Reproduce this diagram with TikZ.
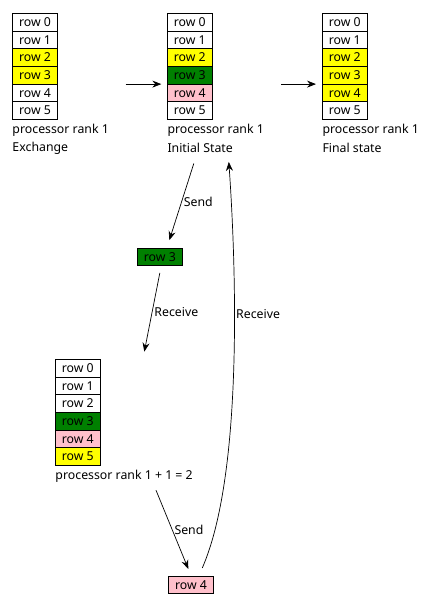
\documentclass[tikz,border=0pt]{standalone}
\usepackage{fontspec}
\setmainfont{Noto Sans}
\usepackage{tikz}
\usetikzlibrary{positioning,arrows.meta}
\definecolor{rowyellow}{RGB}{255,255,0}
\definecolor{rowgreen}{RGB}{0,128,0}
\definecolor{rowpink}{RGB}{255,192,203}
\tikzset{
	cell/.style={draw, line width=0.8pt, minimum width=45pt, minimum height=17.7pt, inner sep=0pt, outer sep=0pt, font=\fontsize{12.3}{14}\selectfont},
	lbl/.style={anchor=west, inner sep=0pt, font=\fontsize{12.3}{14}\selectfont},
	elbl/.style={inner sep=2pt, font=\fontsize{12.3}{14}\selectfont},
	arr/.style={line width=0.7pt, -{Stealth[length=9pt,width=7pt,inset=3pt]}}
}

\begin{document}
\begin{tikzpicture}[x=1pt, y=-1pt]
		%%%%% START %%%%%
		\useasboundingbox (0, 0) rectangle (442, 606);
		
		% rank 1, exchange
		\node[cell] (ex0) at (35, 22.15) {row 0};
		\node[cell, below=0pt of ex0] (ex1) {row 1};
		\node[cell, fill=rowyellow, below=0pt of ex1] (ex2) {row 2};
		\node[cell, fill=rowyellow, below=0pt of ex2] (ex3) {row 3};
		\node[cell, below=0pt of ex3] (ex4) {row 4};
		\node[cell, below=0pt of ex4] (ex5) {row 5};
		\node[lbl] (exA) at (12.3, 130) {processor rank 1};
		\node[lbl] (exB) at (12.3, 148) {Exchange};
		
		% rank 1, initial state
		\node[cell] (in0) at (189.8, 22.15) {row 0};
		\node[cell, below=0pt of in0] (in1) {row 1};
		\node[cell, fill=rowyellow, below=0pt of in1] (in2) {row 2};
		\node[cell, fill=rowgreen, below=0pt of in2] (in3) {row 3};
		\node[cell, fill=rowpink, below=0pt of in3] (in4) {row 4};
		\node[cell, below=0pt of in4] (in5) {row 5};
		\node[lbl] (inA) at (167.3, 130) {processor rank 1};
		\node[lbl] (inB) at (167.3, 148) {Initial State};
		
		% rank 1, final state
		\node[cell] (fi0) at (344.8, 22.15) {row 0};
		\node[cell, below=0pt of fi0] (fi1) {row 1};
		\node[cell, fill=rowyellow, below=0pt of fi1] (fi2) {row 2};
		\node[cell, fill=rowyellow, below=0pt of fi2] (fi3) {row 3};
		\node[cell, fill=rowyellow, below=0pt of fi3] (fi4) {row 4};
		\node[cell, below=0pt of fi4] (fi5) {row 5};
		\node[lbl] (fiA) at (322.3, 130) {processor rank 1};
		\node[lbl] (fiB) at (322.3, 148) {Final state};
		
		% rank 2
		\node[cell] (rk0) at (77.8, 368.15) {row 0};
		\node[cell, below=0pt of rk0] (rk1) {row 1};
		\node[cell, below=0pt of rk1] (rk2) {row 2};
		\node[cell, fill=rowgreen, below=0pt of rk2] (rk3) {row 3};
		\node[cell, fill=rowpink, below=0pt of rk3] (rk4) {row 4};
		\node[cell, fill=rowyellow, below=0pt of rk4] (rk5) {row 5};
		\node[lbl] (rkA) at (55.3, 476.7) {processor rank 1 + 1 = 2};
		
		% rows on the way
		\node[cell, fill=rowgreen] (snd3) at (159.85, 257) {row 3};
		\node[cell, fill=rowpink] (snd4) at (191, 584.8) {row 4};
		
		\draw[arr, shorten <=68pt, shorten >=6pt] (ex3.south east) -- (in3.south west);
		\draw[arr, shorten <=68.7pt, shorten >=6.3pt] (in3.south east) -- (fi3.south west);
		
		\draw[arr] ([xshift=4pt, yshift=-44pt]in5.south) -- node[elbl, right] (sendA) {Send} ([xshift=9.5pt, yshift=8pt]snd3.north);
		\draw[arr] ([yshift=-7pt]snd3.south) -- node[elbl, right] (recvA) {Receive} ([xshift=44pt, yshift=7.6pt]rk0.north east);
		\draw[arr] ([xshift=78.2pt, yshift=-24.7pt]rk5.south) -- node[elbl, right] (sendB) {Send} ([xshift=-2.7pt, yshift=7pt]snd4.north);
		\draw[arr] ([xshift=11.3pt, yshift=8pt]snd4.north) .. controls (245, 470) and (235, 250) .. ([xshift=39pt, yshift=-42.4pt]in5.south);
		\node[lbl] (recvB) at (236, 314) {Receive};
		%%%%% END %%%%%
	\end{tikzpicture}
\end{document}
